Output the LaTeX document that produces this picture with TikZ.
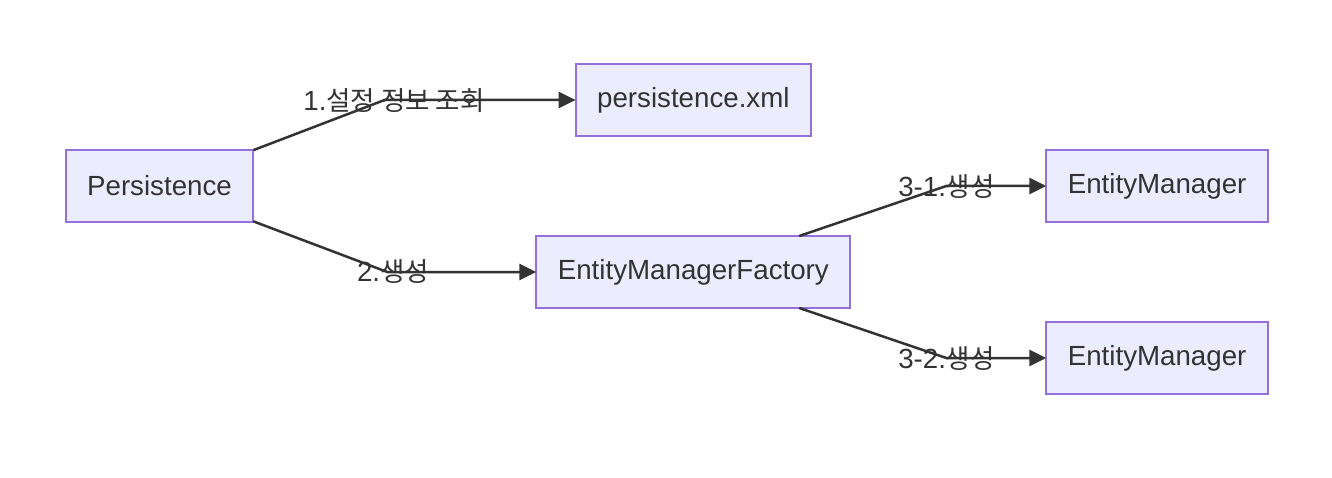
\documentclass[tikz,border=0pt]{standalone}
\usepackage{fontspec}
\setmainfont{Liberation Sans}
\newfontfamily\kr{Noto Sans CJK KR}
\usetikzlibrary{arrows.meta, positioning}
\definecolor{boxfill}{HTML}{ECECFF}
\definecolor{boxline}{HTML}{9370DB}
\definecolor{ink}{HTML}{333333}

\begin{document}
\begin{tikzpicture}[
    x=1pt, y=-1pt,
    box/.style={rectangle, draw=boxline, fill=boxfill, line width=2pt, outer sep=0pt, minimum height=72pt, inner xsep=21.5pt, text=ink, font=\fontsize{27.7}{33}\selectfont},
    arrow/.style={-{Triangle[length=17pt, width=16pt]}, line width=2.5pt, draw=ink},
    lbl/.style={text=ink, inner sep=0pt, font=\fontsize{27.7}{33}\selectfont}
]
\useasboundingbox (0,0) rectangle (1332,478);

% Persistence
\node[box] (pers) at (159.5,186) {Persistence};

% EntityManagerFactory
\node[box, right=283pt of pers, yshift=-86pt] (emf) {EntityManagerFactory};

% persistence.xml
\node[box, above=100pt of emf] (xml) {persistence.xml};

% EntityManager
\node[box, right=196pt of emf, yshift=86pt] (em1) {EntityManager};
\node[box, below=100pt of em1] (em2) {EntityManager};

% Bends
\coordinate[left=191pt of xml] (b1);
\coordinate[left=149pt of emf] (b2);
\coordinate[left=100pt of em1] (b3);
\coordinate[left=100pt of em2] (b4);

% Arrows
\draw[arrow] (pers) -- (b1) -- (xml);
\draw[arrow] (pers) -- (b2) -- (emf);
\draw[arrow] (emf) -- (b3) -- (em1);
\draw[arrow] (emf) -- (b4) -- (em2);

% Labels
\node[lbl] (l1) at (394,101) {1.{\kr\fontsize{26.5}{33}\selectfont 설정 정보 조회}};
\node[lbl] (l2) at (393,272) {2.{\kr\fontsize{26.5}{33}\selectfont 생성}};
\node[lbl] (l3) at (946.5,187) {3-1.{\kr\fontsize{26.5}{33}\selectfont 생성}};
\node[lbl] (l4) at (946.5,359) {3-2.{\kr\fontsize{26.5}{33}\selectfont 생성}};

\end{tikzpicture}
\end{document}
